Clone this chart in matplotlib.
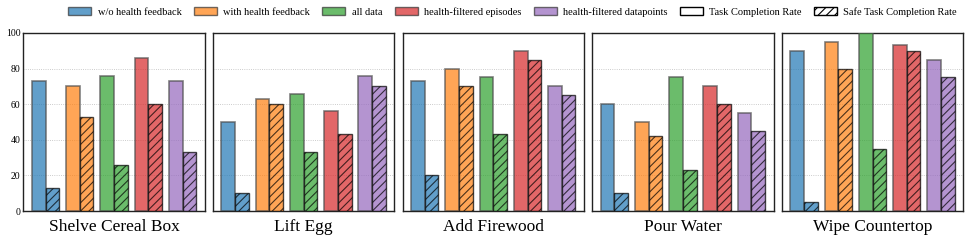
import numpy as np
import matplotlib.pyplot as plt
from matplotlib.patches import Patch

plt.rcParams['font.family'] = ['Liberation Serif', 'DejaVu Serif']
plt.rcParams['hatch.linewidth'] = 0.8

# --- data ---
TASKS = ['Shelve Cereal Box', 'Lift Egg', 'Add Firewood', 'Pour Water', 'Wipe Countertop']
METHODS = ['w/o health feedback', 'with health feedback', 'all data',
           'health-filtered episodes', 'health-filtered datapoints']
COLORS = ['#1f77b4', '#ff7f0e', '#2ca02c', '#d62728', '#9467bd']

# task completion rate per task (one value per method)
task_rate = [
    [73, 70, 76, 86, 73],
    [50, 63, 66, 56, 76],
    [73, 80, 75, 90, 70],
    [60, 50, 75, 70, 55],
    [90, 95, 100, 93, 85],
]
# safe task completion rate
safe_rate = [
    [13, 53, 26, 60, 33],
    [10, 60, 33, 43, 70],
    [20, 70, 43, 85, 65],
    [10, 42, 23, 60, 45],
    [5, 80, 35, 90, 75],
]

fig, axes = plt.subplots(1, 5, figsize=(9.71, 2.44), dpi=100, sharey=True)
fig.subplots_adjust(left=0.024, right=0.992, top=0.865, bottom=0.135, wspace=0.045)

w = 0.4
x = np.arange(len(METHODS))
for i, ax in enumerate(axes):
    for j in range(len(METHODS)):
        ax.bar(x[j] - w / 2, task_rate[i][j], w, color=COLORS[j], alpha=0.7,
               edgecolor=(0.3, 0.3, 0.3, 0.7), linewidth=1.2, zorder=3)
        ax.bar(x[j] + w / 2, safe_rate[i][j], w, color=COLORS[j], alpha=0.7,
               edgecolor='black', linewidth=1.0, hatch='////', zorder=3)
    ax.set_ylim(0, 100)
    ax.set_xlim(-0.65, 4.65)
    ax.set_xticks([])
    ax.set_yticks([0, 20, 40, 60, 80, 100])
    ax.grid(axis='y', linestyle=':', color='#bbbbbb', linewidth=0.6, zorder=0)
    ax.set_xlabel(TASKS[i], fontsize=12.5, labelpad=6)
    ax.tick_params(axis='y', labelsize=7, length=0, pad=2)
    for s in ax.spines.values():
        s.set_color('#222222')
        s.set_linewidth(1.0)

handles = [Patch(facecolor=c, alpha=0.7, edgecolor='#333333', label=m)
           for c, m in zip(COLORS, METHODS)]
handles.append(Patch(facecolor='white', edgecolor='black', label='Task Completion Rate'))
handles.append(Patch(facecolor='white', edgecolor='black', hatch='////',
                     label='Safe Task Completion Rate'))
fig.legend(handles=handles, loc='upper right', ncol=7, fontsize=7.5, frameon=False,
           bbox_to_anchor=(0.995, 1.01), handlelength=2.2, columnspacing=1.2,
           handletextpad=0.6)

fig.savefig('out.png', dpi=100)
